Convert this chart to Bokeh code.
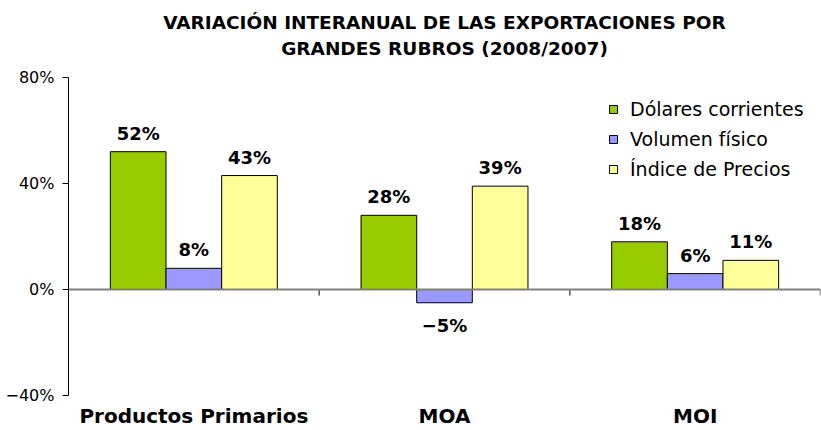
from bokeh.plotting import figure
from bokeh.models import (ColumnDataSource, FactorRange, Range1d, FixedTicker, Span,
                          LabelSet, Title, Legend)
from bokeh.transform import dodge
from bokeh.embed import file_html
from bokeh.resources import INLINE
from bokeh.core.properties import value

categories = ["Productos Primarios", "MOA", "MOI"]
series_names = ["Dólares corrientes", "Volumen físico", "Índice de Precios"]
dolares = [52, 28, 18]
volumen = [8, -5, 6]
indice = [43, 39, 11]
y_ticks = [-40, 0, 40, 80]
y_tick_labels = ["−40%", "0%", "40%", "80%"]
title_lines = ["VARIACIÓN INTERANUAL DE LAS EXPORTACIONES POR", "GRANDES RUBROS (2008/2007)"]

colors = ["#99CC00", "#9999FF", "#FFFF99"]
series = [dolares, volumen, indice]
offsets = [-0.222, 0.0, 0.222]
bar_w = 0.222

W, H = 821, 430
FONT = "DejaVu Sans"

p = figure(width=W, height=H, x_range=FactorRange(factors=categories, range_padding=0),
           y_range=Range1d(-40, 80), output_backend="svg", toolbar_location=None,
           min_border_left=68, min_border_right=1, min_border_top=77, min_border_bottom=35)
p.outline_line_color = None
p.grid.visible = False
p.background_fill_color = "white"
p.border_fill_color = "white"

# zero line
p.add_layout(Span(location=0, dimension="width", line_color="#808080", line_width=2))

renderers = []
for name, vals, col, off in zip(series_names, series, colors, offsets):
    src = ColumnDataSource(dict(cat=categories, val=vals))
    r = p.vbar(x=dodge("cat", off, range=p.x_range), top="val", bottom=0, width=bar_w,
               fill_color=col, line_color="black", line_width=1, source=src)
    renderers.append((name, [r]))
    pos = [i for i, v in enumerate(vals) if v >= 0]
    neg = [i for i, v in enumerate(vals) if v < 0]
    for idx, base, yoff in ((pos, "alphabetic", 12), (neg, "top", -12)):
        if not idx:
            continue
        lsrc = ColumnDataSource(dict(cat=[categories[i] for i in idx],
                                     val=[vals[i] for i in idx],
                                     txt=[("−%d%%" % -vals[i]) if vals[i] < 0 else ("%d%%" % vals[i]) for i in idx]))
        p.add_layout(LabelSet(x=dodge("cat", off, range=p.x_range), y="val", text="txt", source=lsrc,
                              text_align="center", text_baseline=base, y_offset=yoff,
                              text_font=value(FONT), text_font_size="18px", text_font_style="bold",
                              text_color="black"))

# category boundary ticks on the zero line
bounds = list(range(1, len(categories) + 1))
p.ray(x=bounds, y=[0] * len(bounds), length=6, length_units="screen", angle=-1.5708,
      line_color="#555555", line_width=1.5)

# axes
xa = p.xaxis[0]
xa.axis_line_color = None
xa.major_tick_line_color = None
xa.minor_tick_line_color = None
xa.major_label_standoff = 2
xa.major_label_text_font = FONT
xa.major_label_text_font_size = "20px"
xa.major_label_text_font_style = "bold"
xa.major_label_text_color = "black"

ya = p.yaxis[0]
ya.ticker = FixedTicker(ticks=y_ticks)
ya.major_label_overrides = {t: l for t, l in zip(y_ticks, y_tick_labels)}
ya.axis_line_color = "black"
ya.major_tick_line_color = "black"
ya.major_tick_out = 6
ya.major_tick_in = 0
ya.minor_tick_line_color = None
ya.major_label_standoff = 8
ya.major_label_text_font = FONT
ya.major_label_text_font_size = "16px"
ya.major_label_text_color = "black"

legend = Legend(items=renderers, location=(540, 215), orientation="vertical",
                label_text_font=FONT, label_text_font_size="19px", label_text_color="black",
                glyph_width=10, glyph_height=10, label_height=20, spacing=8, padding=0,
                margin=0, border_line_color=None, background_fill_alpha=0, label_standoff=12)
p.add_layout(legend)

# two-line title, lower line added first so it sits nearest the plot
p.add_layout(Title(text=title_lines[1], align="center", vertical_align="top", text_font=FONT,
                   text_font_size="18.5px", text_font_style="bold", text_color="black",
                   standoff=33), "above")
p.add_layout(Title(text=title_lines[0], align="center", vertical_align="bottom", text_font=FONT,
                   text_font_size="18.5px", text_font_style="bold", text_color="black",
                   standoff=-22), "above")

open("out.html", "w").write(file_html(p, INLINE))
